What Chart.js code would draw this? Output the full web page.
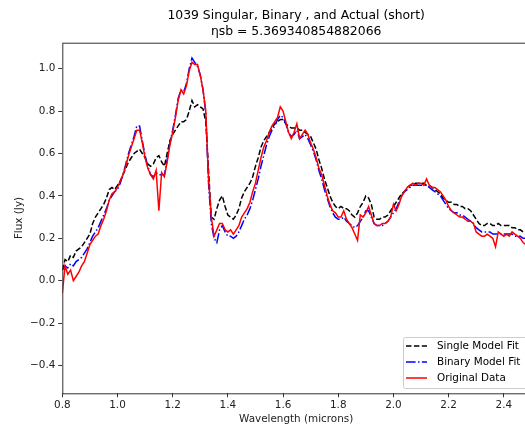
<!DOCTYPE html>
<html>
<head>
<meta charset="utf-8">
<script src="https://cdn.jsdelivr.net/npm/chart.js@4.4.1/dist/chart.umd.min.js"></script>
<style>
  html, body { margin: 0; padding: 0; background: #fff; overflow: hidden; }
  #wrap { width: 540px; height: 429px; }
</style>
</head>
<body>
<div id="wrap"><canvas id="fluxChart" width="540" height="429"></canvas></div>
<script>
// wavelength grid (microns)
const wavelength = [
  0.80, 0.81, 0.82, 0.83, 0.84, 0.85, 0.86, 0.87, 0.88, 0.89,
  0.90, 0.91, 0.92, 0.93, 0.94, 0.95, 0.96, 0.97, 0.98, 0.99,
  1.00, 1.01, 1.02, 1.03, 1.04, 1.05, 1.06, 1.07, 1.08, 1.09,
  1.10, 1.11, 1.12, 1.13, 1.14, 1.15, 1.16, 1.17, 1.18, 1.19,
  1.20, 1.21, 1.22, 1.23, 1.24, 1.25, 1.26, 1.27, 1.28, 1.29,
  1.30, 1.31, 1.32, 1.33, 1.34, 1.35, 1.36, 1.37, 1.38, 1.39,
  1.40, 1.41, 1.42, 1.43, 1.44, 1.45, 1.46, 1.47, 1.48, 1.49,
  1.50, 1.51, 1.52, 1.53, 1.54, 1.55, 1.56, 1.57, 1.58, 1.59,
  1.60, 1.61, 1.62, 1.63, 1.64, 1.65, 1.66, 1.67, 1.68, 1.69,
  1.70, 1.71, 1.72, 1.73, 1.74, 1.75, 1.76, 1.77, 1.78, 1.79,
  1.80, 1.81, 1.82, 1.83, 1.84, 1.85, 1.86, 1.87, 1.88, 1.89,
  1.90, 1.91, 1.92, 1.93, 1.94, 1.95, 1.96, 1.97, 1.98, 1.99,
  2.00, 2.01, 2.02, 2.03, 2.04, 2.05, 2.06, 2.07, 2.08, 2.09,
  2.10, 2.11, 2.12, 2.13, 2.14, 2.15, 2.16, 2.17, 2.18, 2.19,
  2.20, 2.21, 2.22, 2.23, 2.24, 2.25, 2.26, 2.27, 2.28, 2.29,
  2.30, 2.31, 2.32, 2.33, 2.34, 2.35, 2.36, 2.37, 2.38, 2.39,
  2.40, 2.41, 2.42, 2.43, 2.44, 2.45, 2.46, 2.47, 2.48, 2.49
];

const singleFit = [
  0.05, 0.10, 0.09, 0.12, 0.11, 0.14, 0.15, 0.16, 0.18, 0.20,
  0.22, 0.27, 0.30, 0.32, 0.34, 0.36, 0.39, 0.43, 0.44, 0.43,
  0.45, 0.47, 0.50, 0.53, 0.56, 0.58, 0.60, 0.61, 0.62, 0.60,
  0.58, 0.55, 0.54, 0.55, 0.58, 0.59, 0.56, 0.54, 0.60, 0.66,
  0.69, 0.71, 0.73, 0.75, 0.75, 0.76, 0.80, 0.85, 0.82, 0.83,
  0.82, 0.81, 0.75, 0.52, 0.30, 0.29, 0.34, 0.38, 0.40, 0.35,
  0.31, 0.30, 0.29, 0.31, 0.34, 0.39, 0.42, 0.44, 0.46, 0.49,
  0.54, 0.58, 0.63, 0.66, 0.68, 0.70, 0.72, 0.74, 0.75, 0.76,
  0.76, 0.74, 0.73, 0.72, 0.72, 0.72, 0.71, 0.71, 0.70, 0.69,
  0.68, 0.65, 0.62, 0.57, 0.53, 0.48, 0.44, 0.40, 0.37, 0.35,
  0.34, 0.35, 0.34, 0.34, 0.33, 0.31, 0.30, 0.32, 0.35, 0.37,
  0.40, 0.39, 0.36, 0.30, 0.29, 0.29, 0.30, 0.30, 0.31, 0.33,
  0.35, 0.37, 0.39, 0.41, 0.42, 0.44, 0.45, 0.45, 0.46, 0.46,
  0.46, 0.46, 0.45, 0.45, 0.44, 0.43, 0.42, 0.41, 0.39, 0.38,
  0.37, 0.37, 0.36, 0.36, 0.35, 0.35, 0.34, 0.34, 0.33, 0.31,
  0.29, 0.27, 0.26, 0.26, 0.27, 0.27, 0.26, 0.26, 0.27, 0.26,
  0.26, 0.26, 0.26, 0.25, 0.25, 0.24, 0.24, 0.23, 0.23, 0.22
];

const binaryFit = [
  0.05, 0.07, 0.06, 0.08, 0.07, 0.09, 0.10, 0.11, 0.13, 0.15,
  0.18, 0.21, 0.23, 0.25, 0.28, 0.31, 0.34, 0.38, 0.40, 0.42,
  0.43, 0.46, 0.50, 0.55, 0.60, 0.64, 0.68, 0.73, 0.73, 0.66,
  0.59, 0.54, 0.50, 0.49, 0.51, 0.50, 0.50, 0.50, 0.57, 0.65,
  0.71, 0.78, 0.86, 0.90, 0.89, 0.93, 1.00, 1.05, 1.03, 1.01,
  0.97, 0.90, 0.79, 0.46, 0.27, 0.20, 0.18, 0.24, 0.26, 0.23,
  0.21, 0.21, 0.20, 0.21, 0.23, 0.26, 0.29, 0.31, 0.34, 0.38,
  0.43, 0.48, 0.54, 0.59, 0.64, 0.68, 0.71, 0.73, 0.76, 0.78,
  0.77, 0.74, 0.70, 0.68, 0.69, 0.71, 0.67, 0.68, 0.69, 0.67,
  0.64, 0.61, 0.57, 0.52, 0.48, 0.43, 0.39, 0.35, 0.32, 0.30,
  0.29, 0.29, 0.30, 0.28, 0.27, 0.26, 0.25, 0.26, 0.28, 0.30,
  0.33, 0.33, 0.30, 0.27, 0.26, 0.26, 0.26, 0.27, 0.28, 0.30,
  0.32, 0.34, 0.37, 0.40, 0.42, 0.43, 0.44, 0.45, 0.45, 0.45,
  0.45, 0.45, 0.45, 0.44, 0.43, 0.42, 0.41, 0.40, 0.38, 0.36,
  0.34, 0.33, 0.32, 0.32, 0.31, 0.31, 0.30, 0.29, 0.28, 0.27,
  0.25, 0.24, 0.23, 0.23, 0.23, 0.23, 0.22, 0.22, 0.22, 0.22,
  0.22, 0.22, 0.22, 0.22, 0.21, 0.21, 0.21, 0.20, 0.20, 0.20
];

const originalData = [
  -0.06, 0.07, 0.03, 0.05, 0.00, 0.02, 0.04, 0.07, 0.09, 0.13,
  0.17, 0.19, 0.21, 0.22, 0.26, 0.29, 0.33, 0.38, 0.41, 0.42,
  0.44, 0.47, 0.50, 0.54, 0.59, 0.63, 0.67, 0.71, 0.71, 0.65,
  0.58, 0.53, 0.50, 0.48, 0.52, 0.33, 0.51, 0.49, 0.56, 0.64,
  0.70, 0.77, 0.85, 0.90, 0.88, 0.92, 0.99, 1.03, 1.02, 1.02,
  0.97, 0.90, 0.80, 0.48, 0.30, 0.21, 0.24, 0.27, 0.27, 0.24,
  0.23, 0.24, 0.22, 0.24, 0.26, 0.30, 0.32, 0.34, 0.37, 0.42,
  0.46, 0.52, 0.58, 0.63, 0.66, 0.70, 0.73, 0.75, 0.77, 0.82,
  0.80, 0.75, 0.70, 0.67, 0.70, 0.74, 0.67, 0.69, 0.71, 0.69,
  0.65, 0.62, 0.58, 0.53, 0.50, 0.45, 0.40, 0.36, 0.33, 0.32,
  0.30, 0.30, 0.33, 0.29, 0.27, 0.25, 0.22, 0.19, 0.31, 0.30,
  0.32, 0.35, 0.31, 0.27, 0.26, 0.26, 0.27, 0.27, 0.28, 0.30,
  0.36, 0.33, 0.36, 0.40, 0.42, 0.44, 0.45, 0.46, 0.45, 0.46,
  0.46, 0.45, 0.48, 0.45, 0.44, 0.44, 0.43, 0.42, 0.40, 0.38,
  0.35, 0.33, 0.32, 0.31, 0.30, 0.30, 0.29, 0.28, 0.28, 0.27,
  0.23, 0.22, 0.21, 0.21, 0.22, 0.21, 0.20, 0.16, 0.23, 0.22,
  0.21, 0.22, 0.21, 0.23, 0.22, 0.21, 0.20, 0.18, 0.17, 0.19
];

const titleLines = ['1039 Singular, Binary , and Actual (short)', 'ηsb = 5.369340854882066'];

const FONT = "'DejaVu Sans', sans-serif";
Chart.defaults.font.family = FONT;
Chart.defaults.color = '#000';

function toPoints(values) {
    return values.map((v, i) => ({ x: wavelength[i], y: v }));
}

function fmtTick(value) {
    return value.toFixed(1).replace('-', '\u2212');
}

// frame, two-line title and the boxed legend, matplotlib style
const decorPlugin = {
    id: 'decor',
    afterDraw(chart) {
        const { ctx, chartArea } = chart;
        const a = chartArea;
        ctx.save();
        ctx.strokeStyle = '#333';
        ctx.lineWidth = 1;
        ctx.strokeRect(a.left + 0.5, a.top + 0.5, a.right - a.left, a.bottom - a.top);

        const cx = (a.left + a.right) / 2;
        ctx.fillStyle = '#000';
        ctx.font = '12.4px ' + FONT;
        ctx.textAlign = 'center';
        ctx.textBaseline = 'middle';
        ctx.fillText(titleLines[0], cx, 16);
        ctx.fillText(titleLines[1], cx, 32);

        // legend
        const bx = 403, by = 337, bw = 135, bh = 51;
        ctx.beginPath();
        ctx.roundRect(bx + 0.5, by + 0.5, bw, bh, 2);
        ctx.fillStyle = 'rgba(255,255,255,0.8)';
        ctx.fill();
        ctx.strokeStyle = '#cccccc';
        ctx.stroke();

        ctx.font = '10.4px ' + FONT;
        ctx.textAlign = 'left';
        chart.data.datasets.forEach((ds, i) => {
            const y = 346 + i * 16;
            ctx.beginPath();
            ctx.setLineDash(ds.borderDash || []);
            ctx.strokeStyle = ds.borderColor;
            ctx.lineWidth = ds.borderWidth;
            ctx.moveTo(406, y);
            ctx.lineTo(427, y);
            ctx.stroke();
            ctx.setLineDash([]);
            ctx.fillStyle = '#000';
            ctx.fillText(ds.label, 437, y + 0.5);
        });
        ctx.restore();
    }
};

const ctx = document.getElementById('fluxChart').getContext('2d');
new Chart(ctx, {
    type: 'line',
    data: {
        datasets: [
            {
                label: 'Single Model Fit',
                data: toPoints(singleFit),
                borderColor: '#000000',
                borderWidth: 1.5,
                borderDash: [5.5, 2.4],
                order: 3
            },
            {
                label: 'Binary Model Fit',
                data: toPoints(binaryFit),
                borderColor: '#0000ff',
                borderWidth: 1.5,
                borderDash: [9.6, 2.4, 1.5, 2.4],
                order: 2
            },
            {
                label: 'Original Data',
                data: toPoints(originalData),
                borderColor: '#ff0000',
                borderWidth: 1.5,
                order: 1
            }
        ]
    },
    options: {
        responsive: false,
        animation: false,
        layout: {
            padding: { top: 42.7, right: 10, bottom: 0, left: 0 }
        },
        elements: {
            point: { radius: 0 },
            line: { tension: 0, fill: false }
        },
        scales: {
            x: {
                type: 'linear',
                min: 0.8,
                max: 2.495,
                afterFit: scale => { scale.height = 35.7; },
                border: { display: false },
                grid: {
                    drawOnChartArea: false,
                    drawTicks: true,
                    tickLength: 4,
                    tickColor: '#333'
                },
                ticks: {
                    stepSize: 0.2,
                    includeBounds: false,
                    padding: 2,
                    maxRotation: 0,
                    color: '#222',
                    font: { size: 10.4 },
                    callback: fmtTick
                },
                title: {
                    display: true,
                    text: 'Wavelength (microns)',
                    color: '#222',
                    font: { size: 10.4 },
                    padding: { top: 0, bottom: 3.5 }
                }
            },
            y: {
                type: 'linear',
                min: -0.531,
                max: 1.1226,
                afterFit: scale => { scale.width = 62.3; },
                border: { display: false },
                grid: {
                    drawOnChartArea: false,
                    drawTicks: true,
                    tickLength: 4,
                    tickColor: '#333'
                },
                ticks: {
                    stepSize: 0.2,
                    includeBounds: false,
                    padding: 3,
                    color: '#222',
                    font: { size: 10.4 },
                    callback: fmtTick
                },
                title: {
                    display: true,
                    text: 'Flux (Jy)',
                    color: '#222',
                    font: { size: 10.4 },
                    padding: { top: 12.8, bottom: 0 }
                }
            }
        },
        plugins: {
            legend: { display: false },
            tooltip: { enabled: false },
            title: { display: false }
        }
    },
    plugins: [decorPlugin]
});
</script>
</body>
</html>
